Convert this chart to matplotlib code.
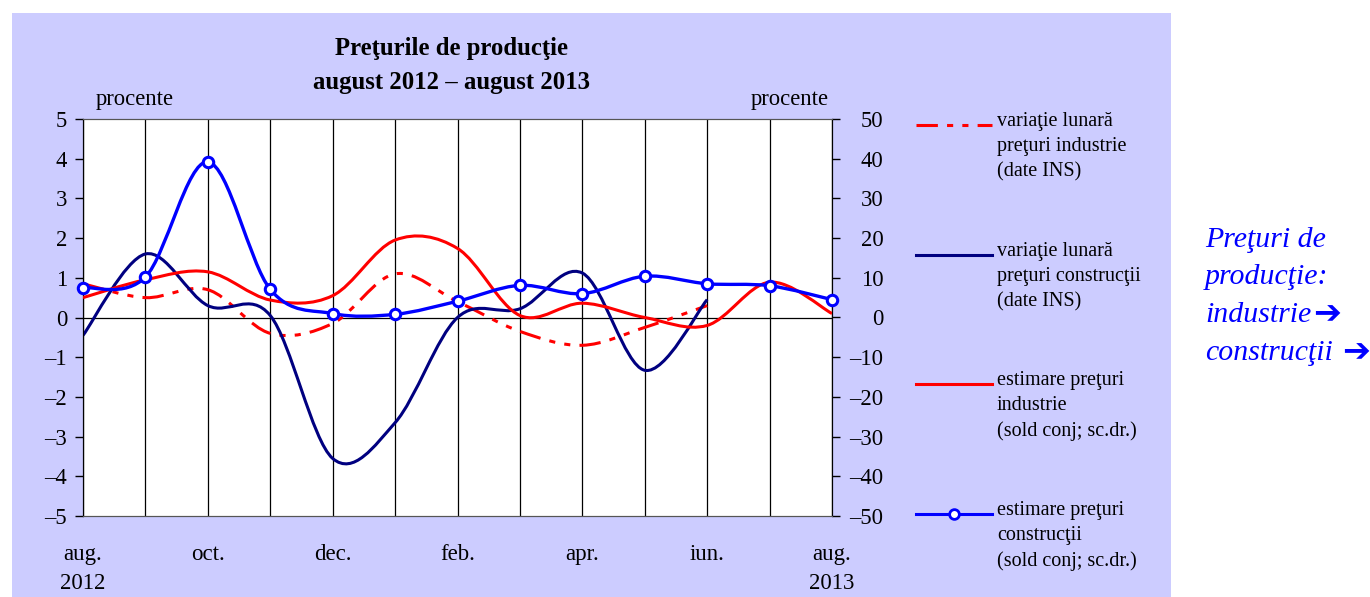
import matplotlib
matplotlib.use("Agg")
import matplotlib.pyplot as plt
from matplotlib.path import Path
from matplotlib.patches import PathPatch, Rectangle
from matplotlib.lines import Line2D
import numpy as np

plt.rcParams['font.family'] = ['Liberation Serif', 'DejaVu Sans']

# luni: aug. 2012 ... aug. 2013
luni = ['aug.\n2012', '', 'oct.', '', 'dec.', '', 'feb.', '', 'apr.', '', 'iun.', '', 'aug.\n2013']

# scala stanga (procente)
var_industrie = [0.85, 0.5, 0.7, -0.4, -0.15, 1.1, 0.4, -0.35, -0.7, -0.25, 0.3]
var_constructii = [-0.45, 1.6, 0.3, 0.05, -3.55, -2.65, 0.0, 0.22, 1.12, -1.33, 0.45]
# scala dreapta (sold conjunctural)
est_industrie = [5, 9.5, 11.5, 4.4, 5.5, 19.5, 17.4, 0.5, 3.6, 0.0, -2.0, 8.9, 1.0]
est_constructii = [7.5, 10.2, 39.2, 7.1, 1.0, 0.8, 4.1, 8.1, 6.0, 10.4, 8.5, 8.0, 4.5]

RED = '#FF0000'
NAVY = '#000080'
BLUE = '#0000FF'
LAV = '#CCCCFF'
DASHDOT = (0, (7, 3, 2, 3, 2, 3))


def smooth_path(y):
    # bezier netezit (ca in Excel)
    x = np.arange(len(y), dtype=float)
    y = np.asarray(y, dtype=float)
    pts = np.column_stack([x, y])
    verts = [pts[0]]
    codes = [Path.MOVETO]
    n = len(pts)
    for i in range(n - 1):
        p0 = pts[max(i - 1, 0)]
        p1 = pts[i]
        p2 = pts[i + 1]
        p3 = pts[min(i + 2, n - 1)]
        c1 = p1 + (p2 - p0) / 6.0
        c2 = p2 - (p3 - p1) / 6.0
        verts += [c1, c2, p2]
        codes += [Path.CURVE4] * 3
    return Path(verts, codes)


fig = plt.figure(figsize=(13.7, 5.97), dpi=100)
bg = Rectangle((12 / 1370, 0), (1171 - 12) / 1370, (597 - 13) / 597,
               transform=fig.transFigure, facecolor=LAV, edgecolor='none', zorder=-10)
fig.add_artist(bg)

ax = fig.add_axes([83 / 1370, 81 / 597, 749 / 1370, 397 / 597])
ax.set_zorder(1)
ax.set_facecolor('white')
ax2 = ax.twinx()
ax2.set_zorder(2)

ax.set_xlim(0, 12)
ax.set_ylim(-5, 5)
ax2.set_ylim(-50, 50)

ax.set_xticks(range(13))
ax.set_xticklabels(luni, fontsize=16.5, linespacing=1.5)
ax.tick_params(axis='x', length=0, pad=20)
ax.set_yticks(range(-5, 6))
ax.set_yticklabels([str(v).replace('-', '\u2013') for v in range(-5, 6)], fontsize=16.3)
ax.tick_params(axis='y', direction='out', length=5.5, width=1, pad=6)
ax2.set_yticks(range(-50, 51, 10))
ax2.set_yticklabels([str(v).replace('-', '\u2013') for v in range(-50, 51, 10)], fontsize=16.3)
ax2.tick_params(axis='y', direction='out', length=5.5, width=1, pad=31.5)
for t in ax2.get_yticklabels():
    t.set_horizontalalignment('right')

ax.grid(axis='x', color='black', lw=0.9)
ax.axhline(0, color='black', lw=0.9)
for a in (ax, ax2):
    a.spines['top'].set_color('#555555')
    a.spines['bottom'].set_color('#555555')
    a.spines['left'].set_color('black')
    a.spines['right'].set_color('black')

ax.add_patch(PathPatch(smooth_path(var_industrie), fill=False, edgecolor=RED, lw=2.2,
                       linestyle=DASHDOT, zorder=3))
ax.add_patch(PathPatch(smooth_path(var_constructii), fill=False, edgecolor=NAVY, lw=2.2, zorder=3))
ax2.add_patch(PathPatch(smooth_path(est_industrie), fill=False, edgecolor=RED, lw=2.2, zorder=3))
ax2.add_patch(PathPatch(smooth_path(est_constructii), fill=False, edgecolor=BLUE, lw=2.4, zorder=3))
ax2.plot(range(len(est_constructii)), est_constructii, 'o', ms=7.5, mfc='white', mec=BLUE, mew=2.2,
         zorder=4, clip_on=False)

fig.text(452 / 1370, 1 - 48 / 597, 'Preţurile de producţie', ha='center', va='center',
         fontsize=17.8, fontweight='bold')
fig.text(452 / 1370, 1 - 82 / 597, 'august 2012 \u2013 august 2013', ha='center', va='center',
         fontsize=17.8, fontweight='bold')
fig.text(96 / 1370, 1 - 100 / 597, 'procente', ha='left', va='center', fontsize=16.3)
fig.text(829 / 1370, 1 - 100 / 597, 'procente', ha='right', va='center', fontsize=16.3)

# legenda
leg = [
    (RED, DASHDOT, False, 'variaţie lunară\npreţuri industrie\n(date INS)', 125),
    (NAVY, '-', False, 'variaţie lunară\npreţuri construcţii\n(date INS)', 255),
    (RED, '-', False, 'estimare preţuri\nindustrie\n(sold conj; sc.dr.)', 384),
    (BLUE, '-', True, 'estimare preţuri\nconstrucţii\n(sold conj; sc.dr.)', 514),
]
for col, ls, mk, txt, yy in leg:
    yf = 1 - yy / 597
    fig.add_artist(Line2D([916 / 1370, 992 / 1370], [yf, yf], color=col, lw=2.2, linestyle=ls,
                          transform=fig.transFigure))
    if mk:
        fig.add_artist(Line2D([954 / 1370], [yf], marker='o', ms=7, mfc='white', mec=col, mew=2,
                              transform=fig.transFigure))
    fig.text(997 / 1370, yf + 13 / 597, txt, ha='left', va='top', fontsize=14.5, linespacing=1.42)

blok = ['Preţuri de', 'producţie:', 'industrie', 'construcţii']
for i, s in enumerate(blok):
    fig.text(1205 / 1370, 1 - (240 + 37.5 * i) / 597, s, ha='left', va='center',
             fontsize=21.5, style='italic', color=BLUE)
fig.text(1313 / 1370, 1 - 314 / 597, '\u2794', ha='left', va='center', fontsize=24,
         color=BLUE, family='DejaVu Sans', fontweight='bold')
fig.text(1342 / 1370, 1 - 352 / 597, '\u2794', ha='left', va='center', fontsize=24,
         color=BLUE, family='DejaVu Sans', fontweight='bold')

fig.savefig('out.png', dpi=100)
